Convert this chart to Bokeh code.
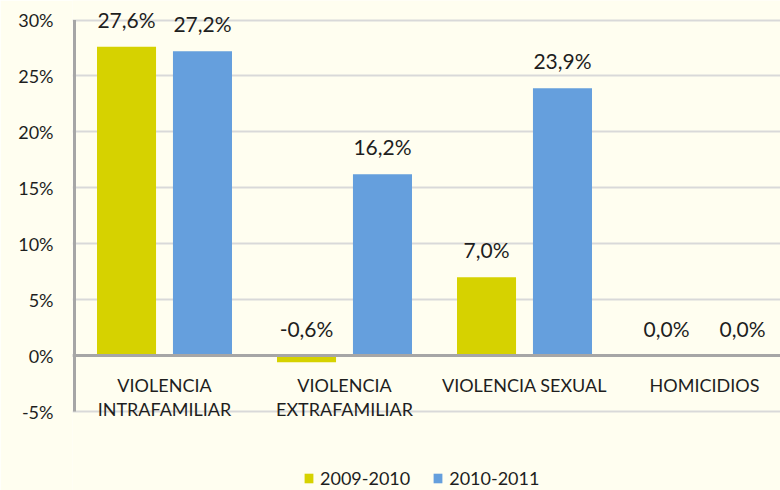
from bokeh.plotting import figure
from bokeh.models import (ColumnDataSource, Range1d, LabelSet, Legend, LegendItem,
                          Span, FixedTicker, PrintfTickFormatter)
from bokeh.core.properties import value
from bokeh.transform import dodge
from bokeh.embed import file_html
from bokeh.resources import INLINE
import numpy as np

# Data
categories = ["VIOLENCIA\nINTRAFAMILIAR", "VIOLENCIA\nEXTRAFAMILIAR",
              "VIOLENCIA SEXUAL", "HOMICIDIOS"]
series_names = ["2009-2010", "2010-2011"]
values_0910 = [27.6, -0.6, 7.0, 0.0]
values_1011 = [27.2, 16.2, 23.9, 0.0]
y_ticks = [-5, 0, 5, 10, 15, 20, 25, 30]

# Styling
BG = "#FFFEF0"
YELLOW = "#D6D200"
BLUE = "#659FDD"
AXIS_GREY = "#A6A6A6"
TEXT = "#1E1E1E"
FONT = "Lato"
OFFSET = 0.211
BAR_W = 0.328
PX_PER_CAT = 180.0          # horizontal pixels per category
PX_PER_PCT = 391.5 / 35.0   # vertical pixels per percentage point


def pct_label(v):
    return f"{v:.1f}".replace(".", ",") + "%"


pos = np.arange(len(categories)) + 0.5
lines = [c.split("\n") + [""] * (2 - len(c.split("\n"))) for c in categories]
src = ColumnDataSource(dict(
    x=pos,
    line1=[l[0] for l in lines],
    line2=[l[1] for l in lines],
    a=values_0910,
    b=values_1011,
    a_lab=[pct_label(v) for v in values_0910],
    b_lab=[pct_label(v) for v in values_1011],
    a_top=[max(v, 0) for v in values_0910],
    b_top=[max(v, 0) for v in values_1011],
    zero=[0] * len(categories),
))

# The plotting frame spans the full height; the y range is padded so the
# -5%..30% band sits where the axis is, leaving room for labels and legend.
y_lo = y_ticks[0] - 79 / PX_PER_PCT
y_hi = y_ticks[-1] + 19.5 / PX_PER_PCT

p = figure(width=780, height=490,
           x_range=Range1d(-2 / PX_PER_CAT, 706 / PX_PER_CAT),
           y_range=Range1d(y_lo, y_hi),
           x_axis_type=None, output_backend="svg", toolbar_location=None,
           min_border_left=72, min_border_right=0,
           min_border_top=0, min_border_bottom=0,
           background_fill_color=BG, border_fill_color=BG,
           outline_line_color=None)

# Y axis
yax = p.yaxis[0]
yax.ticker = FixedTicker(ticks=y_ticks)
yax.formatter = PrintfTickFormatter(format="%d%%")
yax.major_tick_line_color = None
yax.minor_tick_line_color = None
yax.major_tick_in = 0
yax.major_tick_out = 0
yax.minor_tick_out = 0
yax.axis_line_color = None
yax.major_label_standoff = 19
yax.major_label_text_font = FONT
yax.major_label_text_font_size = "18px"
yax.major_label_text_color = TEXT

p.ygrid.grid_line_color = "#D9D9D9"
p.ygrid.grid_line_width = 2

# Bars
r1 = p.vbar(x=dodge("x", -OFFSET), top="a", bottom=0, width=BAR_W,
            fill_color=YELLOW, line_color=None, source=src)
r2 = p.vbar(x=dodge("x", OFFSET), top="b", bottom=0, width=BAR_W,
            fill_color=BLUE, line_color=None, source=src)

# Vertical axis line over the -5%..30% band, and the zero line
p.segment(x0=[0], y0=[y_ticks[0]], x1=[0], y1=[y_ticks[-1]],
          line_color=AXIS_GREY, line_width=3)
p.add_layout(Span(location=0, dimension="width", line_color=AXIS_GREY, line_width=3))

# Value labels
for xoff, ycol, tcol in [(-OFFSET, "a_top", "a_lab"), (OFFSET, "b_top", "b_lab")]:
    p.add_layout(LabelSet(x=dodge("x", xoff), y=ycol, text=tcol, source=src,
                          y_offset=19, text_align="center", text_baseline="alphabetic",
                          text_font=value(FONT), text_font_size="21px", text_color=TEXT))

# Category labels under the zero line (one or two lines each)
for col, off in [("line1", -36), ("line2", -60)]:
    p.add_layout(LabelSet(x="x", y="zero", text=col, source=src,
                          y_offset=off, text_align="center", text_baseline="alphabetic",
                          text_font=value(FONT), text_font_size="18px", text_color=TEXT))

legend = Legend(items=[LegendItem(label=series_names[0], renderers=[r1]),
                       LegendItem(label=series_names[1], renderers=[r2])],
                orientation="horizontal", location=(231, 1),
                glyph_width=11, glyph_height=12, label_standoff=6, spacing=22,
                padding=0, margin=0, border_line_color=None, background_fill_alpha=0,
                label_text_font=FONT, label_text_font_size="18px",
                label_text_color=TEXT)
p.add_layout(legend)

open("out.html", "w").write(file_html(p, INLINE))
